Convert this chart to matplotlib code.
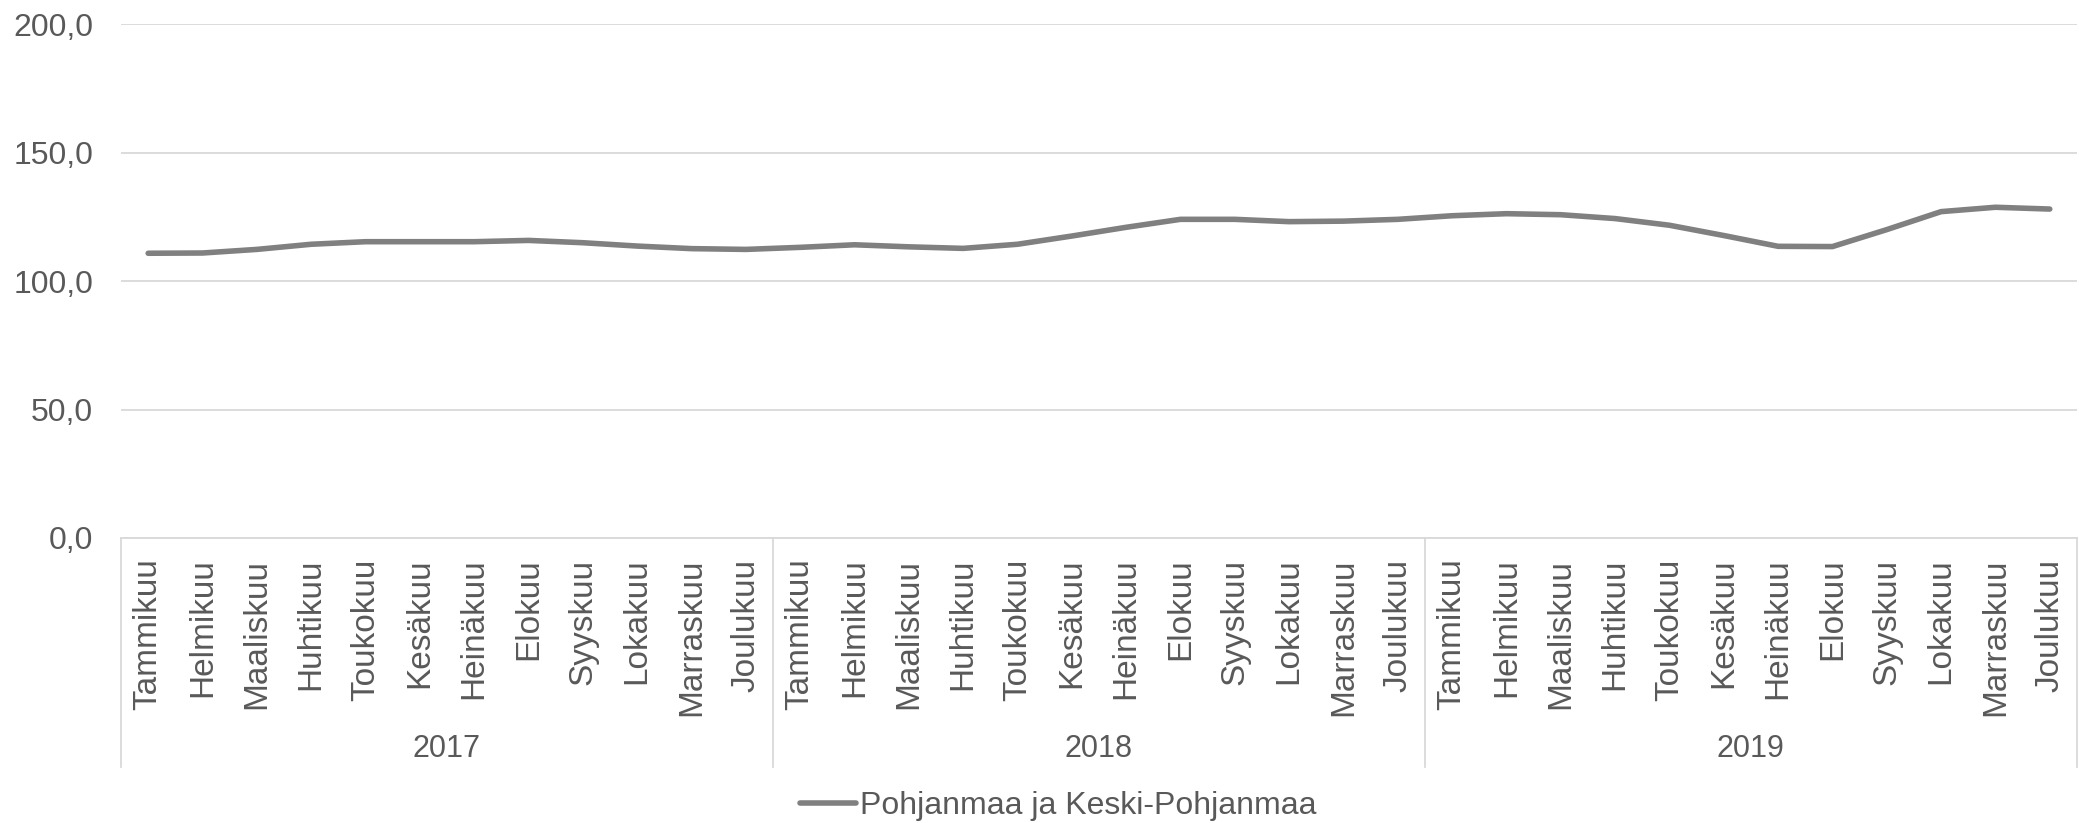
import matplotlib
matplotlib.use("Agg")
import matplotlib.pyplot as plt
import matplotlib.transforms as mtransforms

months = ["Tammikuu", "Helmikuu", "Maaliskuu", "Huhtikuu", "Toukokuu", "Kesäkuu",
          "Heinäkuu", "Elokuu", "Syyskuu", "Lokakuu", "Marraskuu", "Joulukuu"]
years = ["2017", "2018", "2019"]
values_2017 = [110.8, 110.9, 112.3, 114.3, 115.3, 115.3, 115.3, 115.8, 114.9, 113.6, 112.6, 112.3]
values_2018 = [113.1, 114.1, 113.3, 112.7, 114.3, 117.5, 120.9, 124.0, 124.0, 123.1, 123.3, 124.0]
values_2019 = [125.4, 126.2, 125.8, 124.3, 121.7, 117.7, 113.5, 113.4, 120.0, 127.0, 128.7, 128.0]
series_name = "Pohjanmaa ja Keski-Pohjanmaa"
yticks = [0, 50, 100, 150, 200]

plt.rcParams['font.family'] = ['Liberation Sans', 'DejaVu Sans']
text_col = '#595959'
grid_col = '#d9d9d9'

values = values_2017 + values_2018 + values_2019
x = list(range(len(values)))

fig = plt.figure(figsize=(20.79, 8.23), dpi=100)
ax = fig.add_axes([0.0582, 0.3463, 0.9408, 0.6245])

ax.plot(x, values, color='#808080', lw=4.0, solid_capstyle='round',
        solid_joinstyle='round', label=series_name, zorder=3)

ax.set_xlim(-0.5, len(values) - 0.5)
ax.set_ylim(0, 200)
ax.set_yticks(yticks)
ax.set_yticklabels([f"{v:.1f}".replace('.', ',') for v in yticks])
ax.yaxis.grid(True, color=grid_col, lw=1.3)
ax.set_axisbelow(True)
ax.tick_params(axis='y', length=0, pad=20, labelsize=23, labelcolor=text_col)
ax.set_xticks([])
for s in ['top', 'right', 'left']:
    ax.spines[s].set_visible(False)
ax.spines['bottom'].set_color(grid_col)
ax.spines['bottom'].set_linewidth(1.3)

# month labels, year labels and group separators below the axis
trans = mtransforms.blended_transform_factory(ax.transData, ax.transAxes)
for i, v in enumerate(x):
    ax.text(v, -0.04, months[i % 12], rotation=90, ha='center', va='top',
            fontsize=24, color=text_col, transform=trans)
for k, yr in enumerate(years):
    ax.text(k * 12 + 5.5, -0.41, yr, ha='center', va='center', fontsize=22,
            color=text_col, transform=trans)
for k in range(len(years) + 1):
    ax.plot([k * 12 - 0.5, k * 12 - 0.5], [0, -0.445], color=grid_col, lw=1.3,
            transform=trans, clip_on=False)

fig.legend(loc='center', bbox_to_anchor=(0.509, 0.021), frameon=False,
           fontsize=23, labelcolor=text_col, handlelength=1.75, handletextpad=0.15,
           borderpad=0)

fig.savefig('out.png', dpi=100)
